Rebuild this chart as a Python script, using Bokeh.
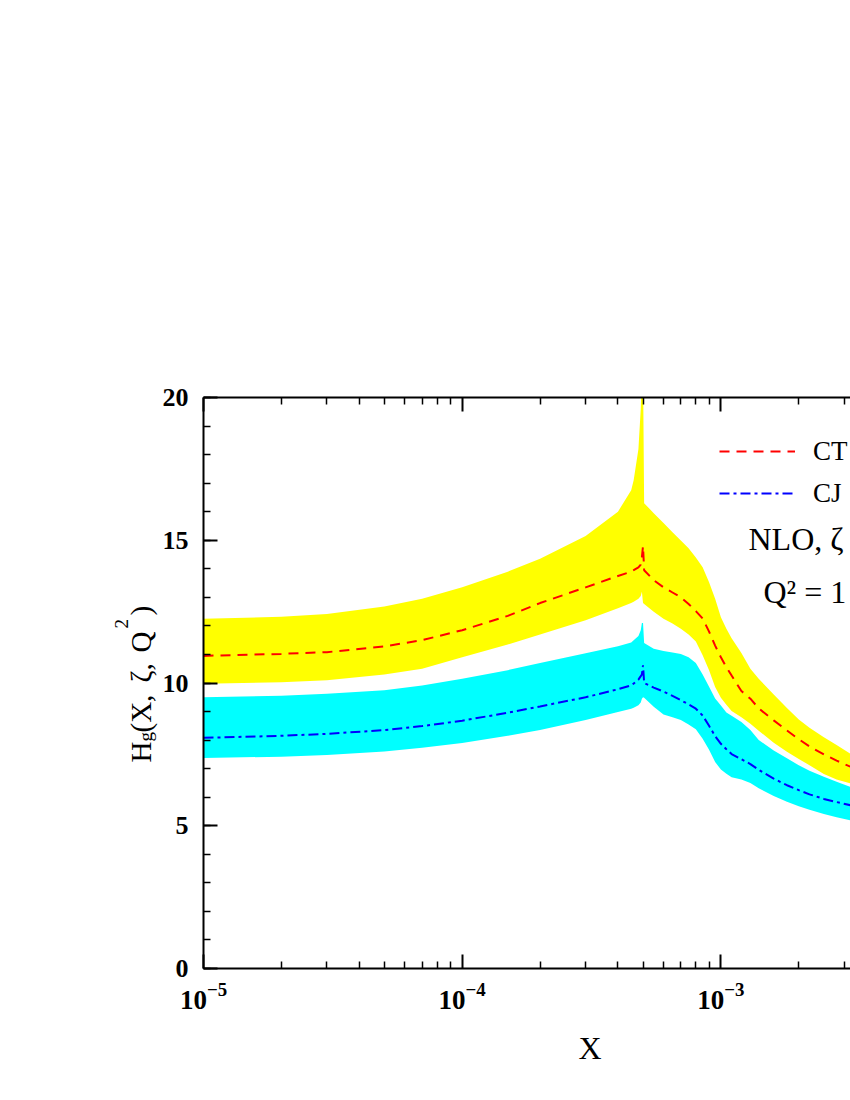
from bokeh.plotting import figure
from bokeh.layouts import row
from bokeh.models import (Label, Legend, LegendItem, FixedTicker, Title,
                          SingleIntervalTicker, LogAxis, Range1d, CustomJSTickFormatter)
from bokeh.embed import file_html
from bokeh.resources import INLINE

# ---------------- data ----------------
x_vals = [1.0e-5, 2.0e-5, 3.0e-5, 5.0e-5, 7.0e-5, 1.0e-4, 1.5e-4, 2.0e-4,
          3.0e-4, 4.0e-4, 4.5e-4, 4.6e-4, 4.8e-4, 4.9e-4, 4.95e-4, 5.0e-4,
          5.05e-4, 5.5e-4, 6.0e-4, 6.5e-4, 7.0e-4, 7.5e-4, 8.0e-4, 8.5e-4,
          9.0e-4, 9.5e-4, 1.0e-3, 1.05e-3, 1.1e-3, 1.2e-3, 1.3e-3, 1.4e-3,
          1.6e-3, 1.8e-3, 2.0e-3, 2.2e-3, 2.5e-3, 2.8e-3, 3.2e-3]

ct_central = [10.95, 11.02, 11.08, 11.28, 11.5, 11.85, 12.35, 12.8, 13.35, 13.75,
              13.9, 13.95, 14.05, 14.15, 14.4, 14.8, 13.95, 13.6, 13.35, 13.17,
              13.0, 12.77, 12.52, 12.26, 11.8, 11.31, 10.9, 10.55, 10.26, 9.72,
              9.45, 9.11, 8.69, 8.34, 8.03, 7.78, 7.5, 7.28, 7.05]
ct_upper = [12.25, 12.32, 12.42, 12.68, 12.95, 13.35, 13.9, 14.35, 15.15, 16.0,
            16.75, 17.1, 18.2, 19.6, 21.0, 21.0, 16.3, 15.95, 15.6, 15.28,
            14.99, 14.72, 14.4, 14.05, 13.53, 12.95, 12.3, 11.9, 11.57, 11.05,
            10.5, 10.15, 9.6, 9.12, 8.72, 8.43, 8.1, 7.83, 7.5]
ct_lower = [9.97, 10.03, 10.1, 10.3, 10.5, 10.9, 11.35, 11.7, 12.2, 12.62,
            12.8, 12.85, 12.95, 13.05, 13.2, 12.8, 12.77, 12.5, 12.25, 12.08,
            11.9, 11.7, 11.45, 10.97, 10.45, 9.86, 9.48, 9.24, 9.02, 8.8,
            8.57, 8.33, 7.91, 7.59, 7.34, 7.12, 6.81, 6.62, 6.47]

cj_central = [8.08, 8.15, 8.22, 8.35, 8.49, 8.68, 8.96, 9.18, 9.5, 9.78,
              9.92, 9.98, 10.12, 10.24, 10.3, 10.62, 10.0, 9.84, 9.7, 9.55,
              9.4, 9.25, 9.1, 8.86, 8.5, 8.14, 7.87, 7.68, 7.51, 7.33,
              7.16, 6.96, 6.65, 6.42, 6.25, 6.1, 5.94, 5.83, 5.71]
cj_upper = [9.5, 9.55, 9.62, 9.75, 9.91, 10.15, 10.45, 10.7, 11.04, 11.29,
            11.42, 11.5, 11.65, 11.85, 12.1, 12.1, 11.4, 11.2, 11.12, 11.07,
            11.02, 10.9, 10.7, 10.3, 9.87, 9.46, 9.21, 8.97, 8.85, 8.63,
            8.35, 8.0, 7.64, 7.36, 7.12, 6.93, 6.72, 6.54, 6.35]
cj_lower = [7.37, 7.42, 7.48, 7.6, 7.73, 7.9, 8.15, 8.35, 8.7, 8.98,
            9.1, 9.13, 9.22, 9.32, 9.45, 9.5, 9.48, 9.17, 8.9, 8.8,
            8.7, 8.55, 8.38, 8.05, 7.66, 7.23, 6.97, 6.82, 6.7, 6.62,
            6.5, 6.31, 6.04, 5.84, 5.68, 5.56, 5.41, 5.3, 5.18]

# visible parts of the legend / note texts (the reference is cut at its right edge)
series_labels = ["CT", "CJ"]
note_lines = ["NLO, \u03b6", "Q\u00b2 = 1"]
x_major_ticks = [1e-5, 1e-4, 1e-3]
x_minor_ticks = [k * 10.0 ** d for d in (-5, -4, -3) for k in range(2, 10)]

# ---------------- layout constants ----------------
FONT = "Liberation Serif"
FRAME_W, FRAME_H = 647, 571
DECADE_PX = 258.7
TITLE_W = 158
MAIN_LEFT, MAIN_TOP, MAIN_BOTTOM = 45, 397, 120
MAIN_H = MAIN_TOP + FRAME_H + MAIN_BOTTOM
FRAME_BOTTOM = MAIN_TOP + FRAME_H
x_end = 10 ** (-5 + FRAME_W / DECADE_PX)

# ---------------- main figure ----------------
p = figure(x_axis_type="log", x_range=Range1d(1e-5, x_end), y_range=Range1d(0, 20),
           frame_width=FRAME_W, frame_height=FRAME_H,
           min_border_left=MAIN_LEFT, min_border_right=0, min_border_top=MAIN_TOP,
           min_border_bottom=MAIN_BOTTOM, output_backend="svg", toolbar_location=None)
p.outline_line_color = None
p.xgrid.grid_line_color = None
p.ygrid.grid_line_color = None

p.varea(x=x_vals, y1=ct_lower, y2=ct_upper, fill_color="#FFFF00")
p.varea(x=x_vals, y1=cj_lower, y2=cj_upper, fill_color="#00FFFF")
r_ct = p.line(x_vals, ct_central, line_color="#FF0000", line_width=2, line_dash="10 7")
r_cj = p.line(x_vals, cj_central, line_color="#0000FF", line_width=2, line_dash="10 4 3 4")

bottom_axis = p.below[0]
left_axis = p.left[0]
bottom_axis.ticker = FixedTicker(ticks=x_major_ticks, minor_ticks=x_minor_ticks)
left_axis.ticker = SingleIntervalTicker(interval=5, num_minor_ticks=5)

top_axis = LogAxis(ticker=FixedTicker(ticks=x_major_ticks, minor_ticks=x_minor_ticks),
                   formatter=CustomJSTickFormatter(code="return ''"))
p.add_layout(top_axis, "above")

for ax in [bottom_axis, left_axis, top_axis]:
    ax.axis_line_width = 2
    ax.axis_line_color = "black"
    ax.major_tick_in = 14
    ax.major_tick_out = 0
    ax.minor_tick_in = 7
    ax.minor_tick_out = 0
    ax.major_tick_line_width = 2
    ax.minor_tick_line_width = 1.5
    ax.major_tick_line_color = "black"
    ax.minor_tick_line_color = "black"

for ax, fs, so in [(bottom_axis, "27px", 14), (left_axis, "26px", 15)]:
    ax.major_label_text_font = FONT
    ax.major_label_text_font_style = "bold"
    ax.major_label_text_font_size = fs
    ax.major_label_text_color = "black"
    ax.major_label_standoff = so

legend = Legend(items=[LegendItem(label=series_labels[0], renderers=[r_ct]),
                       LegendItem(label=series_labels[1], renderers=[r_cj])],
                location=(516, 457), orientation="vertical",
                label_text_font=FONT, label_text_font_size="27px",
                label_text_color="black",
                glyph_width=76, glyph_height=36, label_height=36, spacing=6,
                padding=0, margin=0, label_standoff=18,
                border_line_color=None, background_fill_alpha=0)
p.add_layout(legend)

p.add_layout(Label(x=545, y=430, x_units="screen", y_units="screen", text=note_lines[0],
                   text_font=FONT, text_font_size="32px", text_color="black",
                   text_align="left", text_baseline="alphabetic"))
p.add_layout(Label(x=560, y=377, x_units="screen", y_units="screen", text=note_lines[1],
                   text_font=FONT, text_font_size="32px", text_color="black",
                   text_align="left", text_baseline="alphabetic"))

# x axis title, shifted right as in the reference
p.add_layout(Title(text="X", align="left", offset=375, vertical_align="middle",
                   standoff=34, text_font=FONT, text_font_size="32px",
                   text_font_style="normal", text_color="black"), "below")

# ---------------- y axis title: H_g(X,zeta,Q^2) ----------------
# this figure's frame is aligned with the main frame (top 397, bottom 968)
tfig = figure(width=TITLE_W, height=MAIN_H, x_range=Range1d(0, 1), y_range=Range1d(0, 1),
              min_border=0, x_axis_location=None, y_axis_location=None,
              toolbar_location=None, output_backend="svg")
tfig.outline_line_color = None
tfig.xgrid.grid_line_color = None
tfig.ygrid.grid_line_color = None

y_title_pieces = [("H", 140, 762, "29px"), ("g", 145, 741, "19px"),
                  ("(X,", 140, 732, "29px"), ("\u03b6,", 140, 682, "29px"),
                  ("Q", 140, 652, "29px"), ("2", 121, 628, "19px"),
                  (")", 140, 615, "29px")]
for txt, px_x, px_y, fs in y_title_pieces:
    tfig.add_layout(Label(x=px_x, y=FRAME_BOTTOM - px_y, x_units="screen", y_units="screen",
                          text=txt, angle=90, angle_units="deg", text_font=FONT,
                          text_font_size=fs, text_color="black",
                          text_align="left", text_baseline="alphabetic"))

layout = row(tfig, p)
open("out.html", "w").write(file_html(layout, INLINE))
